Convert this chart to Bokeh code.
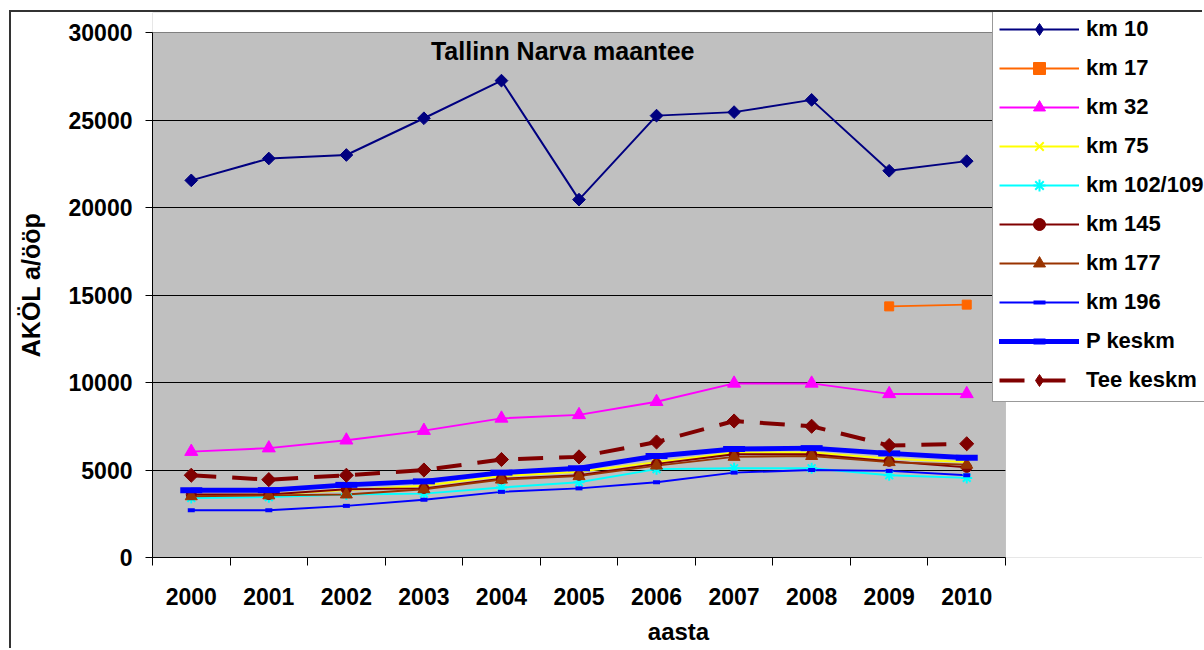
import numpy as np
from bokeh.plotting import figure
from bokeh.models import (FixedTicker, SingleIntervalTicker, Legend, LegendItem,
                          Label, Range1d, ColumnDataSource, BoxAnnotation)
from bokeh.embed import file_html
from bokeh.resources import INLINE

years = ["2000", "2001", "2002", "2003", "2004", "2005", "2006", "2007", "2008", "2009", "2010"]
nan = float("nan")
km10 = [21550, 22800, 23000, 25100, 27250, 20450, 25250, 25450, 26150, 22100, 22650]
km17 = [nan, nan, nan, nan, nan, nan, nan, nan, nan, 14350, 14450]
km32 = [6050, 6250, 6700, 7250, 7950, 8150, 8900, 9950, 9950, 9350, 9350]
km75 = [3550, 3600, 3850, 4100, 4650, 4900, 5450, 6000, 6000, 5650, 5450]
km102 = [3400, 3450, 3600, 3650, 4000, 4300, 5050, 5100, 5100, 4700, 4550]
km145 = [3600, 3600, 3900, 3950, 4500, 4700, 5350, 5900, 5900, 5500, 5150]
km177 = [3500, 3550, 3600, 3900, 4450, 4650, 5250, 5750, 5800, 5450, 5300]
km196 = [2700, 2700, 2950, 3300, 3750, 3950, 4300, 4850, 5000, 4950, 4700]
p_keskm = [3850, 3850, 4150, 4350, 4850, 5100, 5800, 6200, 6250, 5950, 5700]
tee_keskm = [4700, 4450, 4700, 5000, 5600, 5750, 6600, 7800, 7500, 6400, 6500]

title_text = "Tallinn Narva maantee"
x_title = "aasta"
y_title = "AKÖL a/ööp"

FONT = "Liberation Sans"
xs = list(range(len(years)))
n = len(years)

# layout (pixels)
CANVAS_W, CANVAS_H = 1193, 638
LEFT, BOTTOM = 141, 93
FRAME_W = CANVAS_W - LEFT          # frame reaches the right edge (legend lives there)
FRAME_H = CANVAS_H - BOTTOM        # frame reaches the top edge
PLOT_W, PLOT_H = 853, 525          # size of the grey plot area
Y_MAX = 30000
x_lo = -0.5
x_hi = x_lo + n * FRAME_W / PLOT_W
y_hi = Y_MAX * FRAME_H / PLOT_H

p = figure(width=CANVAS_W, height=CANVAS_H, output_backend="svg", toolbar_location=None,
           x_range=Range1d(x_lo, x_hi), y_range=Range1d(0, y_hi),
           min_border_left=LEFT, min_border_right=0, min_border_top=0, min_border_bottom=BOTTOM,
           background_fill_color="#C0C0C0", border_fill_color="white",
           outline_line_color=None)
p.styles = {"margin-left": "9px", "margin-top": "10px",
            "border-left": "2px solid #333333", "border-top": "2px solid #333333"}

# white areas outside the grey plot area (cover grid lines there)
p.add_layout(BoxAnnotation(left=n - 0.5, fill_color="white", fill_alpha=1,
                           line_color=None, level="underlay"))
p.add_layout(BoxAnnotation(bottom=Y_MAX, fill_color="white", fill_alpha=1,
                           line_color=None, level="underlay"))

# axes
p.xgrid.visible = False
p.ygrid.grid_line_color = "black"
p.ygrid.grid_line_width = 1
p.yaxis.ticker = SingleIntervalTicker(interval=5000, num_minor_ticks=0)
p.ygrid.ticker = SingleIntervalTicker(interval=5000, num_minor_ticks=0)
p.xaxis.ticker = FixedTicker(ticks=xs, minor_ticks=[i - 0.5 for i in range(n + 1)])
p.xaxis.major_label_overrides = {i: y for i, y in enumerate(years)}
p.xaxis.bounds = (-0.5, n - 0.5)
p.yaxis.bounds = (0, Y_MAX)

for ax in (p.xaxis[0], p.yaxis[0]):
    ax.axis_line_color = "black"
    ax.axis_line_width = 1
    ax.major_label_text_font = FONT
    ax.major_label_text_font_style = "bold"
    ax.major_label_text_color = "black"
    ax.axis_label_text_font = FONT
    ax.axis_label_text_font_style = "bold"
    ax.axis_label_text_color = "black"

p.xaxis.major_tick_line_color = None
p.xaxis.major_tick_out = 0
p.xaxis.major_tick_in = 0
p.xaxis.minor_tick_line_color = "black"
p.xaxis.minor_tick_out = 8
p.xaxis.minor_tick_in = 0
p.xaxis.major_label_text_font_size = "23px"
p.xaxis.major_label_standoff = 22
p.xaxis.axis_label = x_title
p.xaxis.axis_label_text_font_size = "24px"
p.xaxis.axis_label_standoff = 10

p.yaxis.major_tick_line_color = "black"
p.yaxis.major_tick_out = 7
p.yaxis.major_tick_in = 0
p.yaxis.minor_tick_line_color = None
p.yaxis.major_label_text_font_size = "23px"
p.yaxis.major_label_standoff = 13
p.yaxis.axis_label = y_title
p.yaxis.axis_label_text_font_size = "25px"
p.yaxis.axis_label_standoff = 21

series = [
    ("km 10", km10, "#000080", 2, None, dict(marker="square", size=9, angle=np.pi / 4)),
    ("km 17", km17, "#FF6600", 2, None, dict(marker="square", size=9)),
    ("km 32", km32, "#FF00FF", 2, None, dict(marker="triangle", size=13)),
    ("km 75", km75, "#FFFF00", 2, None, dict(marker="x", size=11, line_width=2)),
    ("km 102/109", km102, "#00FFFF", 2, None, dict(marker="asterisk", size=11, line_width=2)),
    ("km 145", km145, "#800000", 2, None, dict(marker="circle", size=10)),
    ("km 177", km177, "#993300", 2, None, dict(marker="triangle", size=12)),
    ("km 196", km196, "#0000FF", 2, None, dict(marker="dash", size=7, line_width=4)),
    ("P keskm", p_keskm, "#0000FF", 5, None, dict(marker="dash", size=22, line_width=6)),
    ("Tee keskm", tee_keskm, "#800000", 4, "25 16", dict(marker="square", size=10, angle=np.pi / 4)),
]

line_rs = []
for name, vals, color, lw, dash, mk in series:
    src = ColumnDataSource(dict(x=xs, y=vals))
    kw = dict(line_color=color, line_width=lw)
    if dash:
        kw["line_dash"] = dash
    r = p.line("x", "y", source=src, line_cap="round" if name == "P keskm" else "butt", **kw)
    line_rs.append((src, r))

items = []
for (name, vals, color, lw, dash, mk), (src, lr) in zip(series, line_rs):
    mk = dict(mk)
    marker = mk.pop("marker")
    sr = p.scatter("x", "y", source=src, marker=marker, fill_color=color, line_color=color, **mk)
    if "angle" in mk:
        # legend-only diamond glyph (angles are not applied to legend markers)
        lg = p.scatter(x=xs, y=[nan] * n, marker="diamond", size=round(mk["size"] * 1.5),
                       fill_color=color, line_color=color)
        items.append(LegendItem(label=name, renderers=[lr, lg]))
    else:
        items.append(LegendItem(label=name, renderers=[lr, sr]))

# grey plot-area border (top and right edges)
p.add_layout(BoxAnnotation(left=-0.5, right=n - 0.5, bottom=0, top=Y_MAX, fill_color=None,
                           line_color="#808080", line_width=1, level="underlay"))

legend = Legend(items=items, location=(PLOT_W - 13, 155), orientation="vertical",
                background_fill_color="white", background_fill_alpha=1,
                border_line_color="#333333", border_line_width=1,
                label_text_font=FONT, label_text_font_style="bold", label_text_font_size="22px",
                label_text_color="black",
                glyph_width=80, glyph_height=30, label_height=30, label_standoff=7,
                spacing=9, padding=6, margin=0)
p.add_layout(legend)

title = Label(x=4.79, y=28950, text=title_text, text_align="center", text_baseline="middle",
              text_font=FONT, text_font_style="bold", text_font_size="25px", text_color="black")
p.add_layout(title)

open("out.html", "w").write(file_html(p, INLINE))
